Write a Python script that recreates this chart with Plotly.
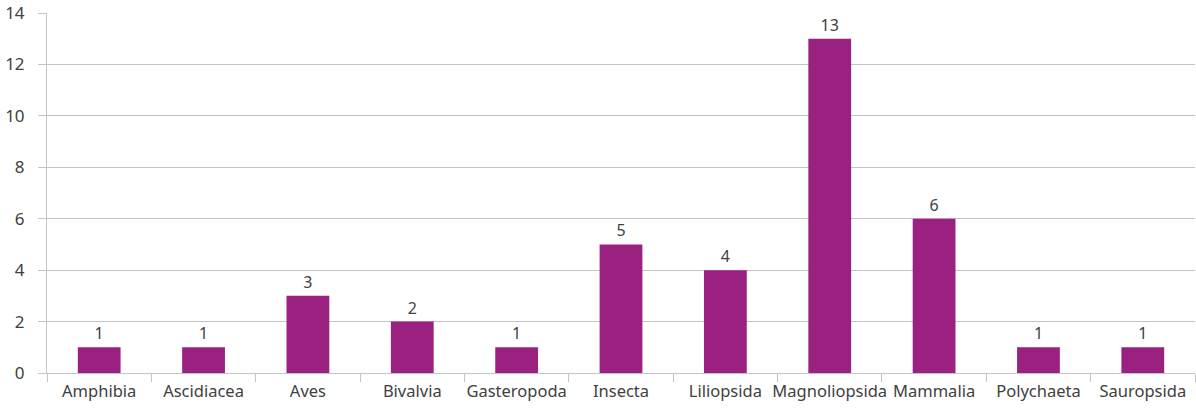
import plotly.graph_objects as go

categories = ["Amphibia", "Ascidiacea", "Aves", "Bivalvia", "Gasteropoda", "Insecta",
              "Liliopsida", "Magnoliopsida", "Mammalia", "Polychaeta", "Sauropsida"]
counts = [1, 1, 3, 2, 1, 5, 4, 13, 6, 1, 1]
y_ticks = [0, 2, 4, 6, 8, 10, 12, 14]

font_family = "Noto Sans, Open Sans, sans-serif"
text_color = "#404040"
grid_color = "#C4C4C4"

fig = go.Figure(go.Bar(
    x=categories, y=counts,
    marker=dict(color="#9A2180", line=dict(width=0)),
    text=[str(v) for v in counts],
    textposition="outside",
    textfont=dict(size=16, color=text_color, family=font_family),
    cliponaxis=False,
))

fig.update_layout(
    width=1196, height=412,
    margin=dict(l=47, r=1, t=13, b=39, autoexpand=False),
    paper_bgcolor="white", plot_bgcolor="white",
    bargap=0.59,
    showlegend=False,
    font=dict(family=font_family, size=15, color=text_color),
)
fig.update_xaxes(
    type="category", automargin=False, tickangle=0,
    showline=True, linecolor=grid_color, linewidth=1,
    ticks="outside", tickson="boundaries", ticklen=8, tickcolor=grid_color,
    showgrid=False,
    ticklabelstandoff=3,
    tickfont=dict(size=16.5, color=text_color),
)
fig.update_yaxes(
    range=[0, 14], tickvals=y_ticks, automargin=False,
    showgrid=True, gridcolor=grid_color, gridwidth=1,
    showline=True, linecolor=grid_color, linewidth=1,
    ticks="outside", ticklen=8, tickcolor=grid_color,
    zeroline=False,
    ticklabelstandoff=10,
    tickfont=dict(size=17, color=text_color),
)

fig.write_html("out.html", config={"displayModeBar": False},
               post_script="document.body.style.margin='0';")
